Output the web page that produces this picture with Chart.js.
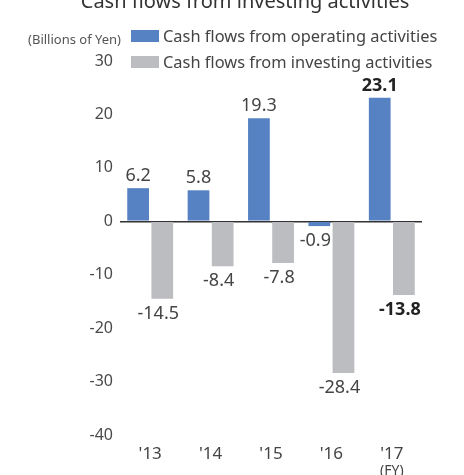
<!DOCTYPE html>
<html lang="en">
<head>
  <meta charset="UTF-8">
  <title>Cash flows from investing activities</title>
  <script src="https://cdn.jsdelivr.net/npm/chart.js"></script>
  <style>
    html, body { margin: 0; padding: 0; background: #fff; }
    #wrap { width: 464px; height: 475px; position: relative; }
  </style>
</head>
<body>
  <div id="wrap"><canvas id="cfChart" width="464" height="475"></canvas></div>
  <script>
    // 年度ごとのキャッシュフロー（十億円）
    const years = ["'13", "'14", "'15", "'16", "'17"];
    const operating = [6.2, 5.8, 19.3, -0.9, 23.1];
    const investing = [-14.5, -8.4, -7.8, -28.4, -13.8];
    const yTicks = [30, 20, 10, 0, -10, -20, -30, -40];

    const FONT = '"Noto Sans", sans-serif';
    const BLUE = '#5682c3';
    const GRAY = '#bcbdc1';

    // タイトル・単位・凡例・数値ラベル
    const decor = {
      id: 'decor',
      afterDatasetsDraw(chart) {
        const c = chart.ctx;
        c.save();
        c.textBaseline = 'alphabetic';
        c.fillStyle = '#333';
        c.font = '20px ' + FONT;
        c.textAlign = 'center';
        c.fillText('Cash flows from investing activities', 245, 8);

        c.fillStyle = '#555';
        c.font = '13px ' + FONT;
        c.textAlign = 'right';
        c.fillText('(Billions of Yen)', 121, 44);

        // 凡例
        c.textAlign = 'left';
        c.font = '16.4px ' + FONT;
        chart.data.datasets.forEach((ds, i) => {
          const y = 30 + i * 26;
          c.fillStyle = ds.backgroundColor;
          c.fillRect(131, y, 28, 12);
          c.fillStyle = '#444';
          c.fillText(ds.label, 163, y + 12);
        });

        // 数値ラベル（負の値は符号分だけ左へ寄せる）
        c.textAlign = 'center';
        c.textBaseline = 'middle';
        chart.data.datasets.forEach((ds, di) => {
          chart.getDatasetMeta(di).data.forEach((bar, i) => {
            const v = ds.data[i];
            const last = i === ds.data.length - 1;
            c.font = (last ? 'bold ' : '') + '18px ' + FONT;
            c.fillStyle = last ? '#222' : '#444';
            const y = v >= 0 ? bar.y - 12 : bar.y + 15;
            const x = v >= 0 ? bar.x : bar.x - 4;
            c.fillText(v.toFixed(1), x, y);
          });
        });

        // 年度表記
        const xs = chart.scales.x;
        c.font = '14px ' + FONT;
        c.fillStyle = '#444';
        c.fillText('(FY)', xs.getPixelForValue(years.length - 1), 471);
        c.restore();
      }
    };

    new Chart(document.getElementById('cfChart'), {
      type: 'bar',
      data: {
        labels: years,
        datasets: [
          { label: 'Cash flows from operating activities', data: operating, backgroundColor: BLUE },
          { label: 'Cash flows from investing activities', data: investing, backgroundColor: GRAY }
        ]
      },
      options: {
        responsive: false,
        animation: false,
        events: [],
        layout: { padding: { top: 61, right: 42, bottom: 0, left: 0 } },
        plugins: { legend: { display: false }, title: { display: false }, tooltip: { enabled: false } },
        scales: {
          x: {
            grid: { display: false },
            border: { display: false },
            ticks: { color: '#444', font: { family: FONT, size: 17 }, padding: 1 },
            afterFit(s) { s.height = 40; }
          },
          y: {
            min: -40,
            max: 30,
            afterBuildTicks(s) { s.ticks = yTicks.map(v => ({ value: v })); },
            afterFit(s) { s.width = 120; },
            border: { display: false },
            grid: {
              drawTicks: false,
              lineWidth: 1.5,
              color: ctx => (ctx.tick && ctx.tick.value === 0) ? '#333' : 'rgba(0,0,0,0)'
            },
            ticks: { color: '#4a4a4a', font: { family: FONT, size: 16 }, padding: 7 }
          }
        }
      },
      plugins: [decor]
    });
  </script>
</body>
</html>
